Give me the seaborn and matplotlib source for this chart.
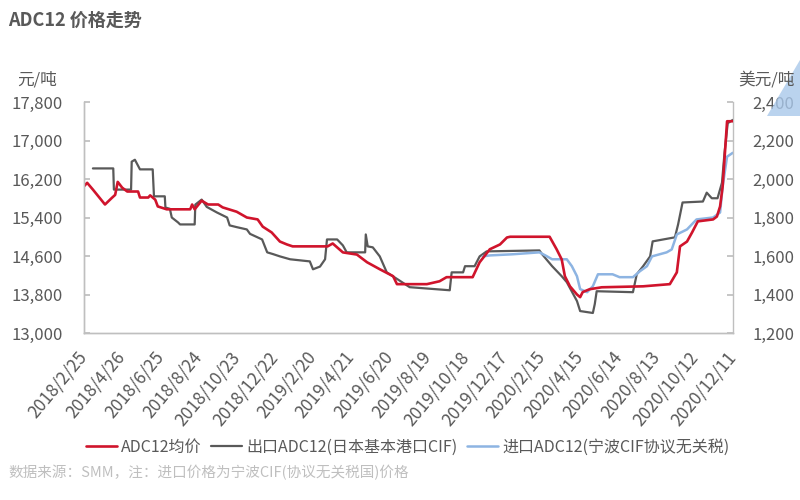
import matplotlib
matplotlib.use('agg')
import matplotlib.pyplot as plt
import matplotlib.transforms as mtransforms
from matplotlib.patches import Polygon
import pandas as pd
import seaborn as sns

# ADC12均价 (元/吨, left axis)
red_dates = ['2018-02-25', '2018-03-02', '2018-03-11', '2018-03-30', '2018-04-10', '2018-04-15',
             '2018-04-19', '2018-04-26', '2018-05-04', '2018-05-21', '2018-05-24', '2018-06-06',
             '2018-06-09', '2018-06-17', '2018-06-21', '2018-07-05', '2018-08-11', '2018-08-14',
             '2018-08-18', '2018-08-29', '2018-09-08', '2018-09-24', '2018-10-01', '2018-10-23',
             '2018-11-08', '2018-11-25', '2018-12-03', '2018-12-17', '2018-12-30', '2019-01-10',
             '2019-01-19', '2019-03-15', '2019-03-23', '2019-04-08', '2019-04-30', '2019-05-16',
             '2019-06-05', '2019-06-26', '2019-07-02', '2019-08-18', '2019-09-07', '2019-09-18',
             '2019-10-29', '2019-11-09', '2019-11-25', '2019-12-11', '2019-12-22', '2019-12-27',
             '2020-02-27', '2020-03-09', '2020-03-17', '2020-03-22', '2020-03-30', '2020-04-10',
             '2020-04-15', '2020-04-19', '2020-04-30', '2020-05-19', '2020-07-23', '2020-09-03',
             '2020-09-14', '2020-09-19', '2020-09-30', '2020-10-08', '2020-10-17', '2020-11-10',
             '2020-11-16', '2020-11-21', '2020-11-25', '2020-12-02', '2020-12-11']
red_prices = [16050, 16120, 15980, 15670, 15810, 15870,
              16140, 16020, 15940, 15940, 15815, 15815,
              15860, 15770, 15630, 15570, 15570, 15670,
              15570, 15750, 15670, 15670, 15610, 15520,
              15400, 15360, 15210, 15090, 14900, 14840,
              14800, 14800, 14860, 14675, 14630, 14470,
              14325, 14180, 14015, 14015, 14075, 14160,
              14160, 14470, 14740, 14840, 14985, 15000,
              15000, 14740, 14530, 14180, 13970, 13800,
              13745, 13850, 13910, 13950, 13970, 14015,
              14260, 14800, 14900, 15090, 15320, 15360,
              15420, 15630, 16040, 17400, 17400]

# 出口ADC12(日本基本港口CIF) (美元/吨, right axis)
export_dates = ['2018-03-11', '2018-04-12', '2018-04-13', '2018-05-10', '2018-05-11', '2018-05-16',
                '2018-05-24', '2018-06-13', '2018-06-15', '2018-07-02', '2018-07-03', '2018-07-10',
                '2018-07-13', '2018-07-23', '2018-07-26', '2018-08-18', '2018-08-19', '2018-08-29',
                '2018-09-06', '2018-09-22', '2018-10-08', '2018-10-12', '2018-10-23', '2018-11-08',
                '2018-11-13', '2018-12-02', '2018-12-10', '2018-12-19', '2018-12-30', '2019-01-15',
                '2019-02-15', '2019-02-20', '2019-03-03', '2019-03-11', '2019-03-14', '2019-03-30',
                '2019-04-08', '2019-04-14', '2019-05-13', '2019-05-14', '2019-05-17', '2019-05-25',
                '2019-06-05', '2019-06-16', '2019-07-03', '2019-07-22', '2019-09-23', '2019-09-26',
                '2019-10-14', '2019-10-17', '2019-11-01', '2019-11-09', '2019-11-20', '2020-02-11',
                '2020-02-15', '2020-03-02', '2020-03-17', '2020-03-25', '2020-04-10', '2020-04-15',
                '2020-05-05', '2020-05-08', '2020-05-11', '2020-07-07', '2020-07-13', '2020-07-23',
                '2020-08-03', '2020-08-07', '2020-09-11', '2020-09-16', '2020-09-23', '2020-10-25',
                '2020-10-31', '2020-11-08', '2020-11-17', '2020-11-24', '2020-11-28', '2020-12-03',
                '2020-12-11']
export_prices = [2055, 2055, 1945, 1945, 2090, 2100,
                 2050, 2050, 1910, 1910, 1852, 1845,
                 1800, 1774, 1764, 1764, 1867, 1893,
                 1855, 1826, 1800, 1759, 1750, 1738,
                 1715, 1686, 1619, 1610, 1598, 1583,
                 1572, 1531, 1545, 1583, 1686, 1686,
                 1655, 1619, 1619, 1712, 1650, 1645,
                 1598, 1515, 1479, 1438, 1422, 1515,
                 1515, 1547, 1547, 1598, 1624, 1629,
                 1610, 1547, 1495, 1464, 1366, 1314,
                 1304, 1350, 1417, 1412, 1505, 1547,
                 1598, 1676, 1697, 1764, 1878, 1883,
                 1929, 1900, 1900, 1981, 2136, 2290,
                 2307]

# 进口ADC12(宁波CIF) (美元/吨, right axis)
import_dates = ['2019-11-14', '2019-11-25', '2019-12-31', '2020-02-11', '2020-02-22', '2020-03-02',
                '2020-03-25', '2020-04-02', '2020-04-10', '2020-04-15', '2020-04-26', '2020-05-05',
                '2020-05-13', '2020-06-05', '2020-06-16', '2020-07-07', '2020-07-18', '2020-07-29',
                '2020-08-06', '2020-08-29', '2020-09-06', '2020-09-14', '2020-09-30', '2020-10-15',
                '2020-11-10', '2020-11-21', '2020-11-25', '2020-12-02', '2020-12-11']
import_prices = [1598, 1603, 1609, 1619, 1600, 1583,
                 1583, 1547, 1495, 1428, 1412, 1443,
                 1505, 1505, 1490, 1490, 1521, 1547,
                 1598, 1619, 1634, 1712, 1738, 1790,
                 1800, 1826, 1960, 2116, 2136]

tick_dates = ['2018-02-25', '2018-04-26', '2018-06-25', '2018-08-24', '2018-10-23', '2018-12-22',
              '2019-02-20', '2019-04-21', '2019-06-20', '2019-08-19', '2019-10-18', '2019-12-17',
              '2020-02-15', '2020-04-15', '2020-06-14', '2020-08-13', '2020-10-12', '2020-12-11']
left_ticks = [13000, 13800, 14600, 15400, 16200, 17000, 17800]
right_ticks = [1200, 1400, 1600, 1800, 2000, 2200, 2400]
series_names = ['ADC12均价', '出口ADC12(日本基本港口CIF)', '进口ADC12(宁波CIF协议无关税)']

RED = '#D0142C'
GREY = '#595959'
BLUE = '#8DB4E2'
TXT = '#595959'
AXIS = '#BFBFBF'

sns.set_theme(style='white')
plt.rcParams['font.family'] = ['Noto Sans CJK SC', 'DejaVu Sans']

red_df = pd.DataFrame({'date': pd.to_datetime(red_dates), 'price': red_prices})
export_df = pd.DataFrame({'date': pd.to_datetime(export_dates), 'price': export_prices})
import_df = pd.DataFrame({'date': pd.to_datetime(import_dates), 'price': import_prices})

fig = plt.figure(figsize=(8, 5), dpi=100)
ax = fig.add_axes([0.105, 0.334, 0.811, 0.462])
ax2 = ax.twinx()

sns.lineplot(data=export_df, x='date', y='price', ax=ax2, color=GREY, lw=1.6, errorbar=None)
sns.lineplot(data=import_df, x='date', y='price', ax=ax2, color=BLUE, lw=1.8, errorbar=None)
sns.lineplot(data=red_df, x='date', y='price', ax=ax, color=RED, lw=1.9, errorbar=None)

# red on top of the secondary-axis lines
ax.set_zorder(ax2.get_zorder() + 1)
ax.patch.set_visible(False)

ax.set_xlim(pd.Timestamp(tick_dates[0]), pd.Timestamp(tick_dates[-1]))
ax.set_ylim(left_ticks[0], left_ticks[-1])
ax2.set_ylim(right_ticks[0], right_ticks[-1])

ticks = pd.to_datetime(tick_dates)
ax.set_xticks(ticks)
ax.set_xticklabels([f'{d.year}/{d.month}/{d.day}' for d in ticks], rotation=50,
                   ha='right', va='center', rotation_mode='anchor')
offset = mtransforms.ScaledTranslation(4 / 72, 0, fig.dpi_scale_trans)
for lab in ax.get_xticklabels():
    lab.set_transform(lab.get_transform() + offset)

ax.set_yticks(left_ticks)
ax.set_yticklabels([f'{v:,}' for v in left_ticks])
ax2.set_yticks(right_ticks)
ax2.set_yticklabels([f'{v:,}' for v in right_ticks])

ax.set_xlabel('')
ax.set_ylabel('')
ax2.set_ylabel('')

ax.tick_params(axis='x', direction='in', length=4, color=AXIS, labelsize=12.5, labelcolor=TXT, pad=15)
ax.tick_params(axis='y', direction='in', length=4, color=AXIS, labelsize=12, labelcolor=TXT, pad=15)
ax2.tick_params(axis='y', direction='in', length=4, color=AXIS, labelsize=12, labelcolor=TXT, pad=14)

for a in (ax, ax2):
    a.spines['top'].set_visible(False)
    for s in ('left', 'bottom', 'right'):
        a.spines[s].set_color(AXIS)
        a.spines[s].set_linewidth(1)
    a.grid(False)
ax.spines['right'].set_visible(False)

fig.text(8 / 800, 1 - 20 / 500, 'ADC12 价格走势', fontsize=13, fontweight='bold', color=TXT,
         ha='left', va='center')
fig.text(37 / 800, 1 - 80 / 500, '元/吨', fontsize=12, color=TXT, ha='center', va='center')
fig.text(766 / 800, 1 - 80 / 500, '美元/吨', fontsize=12, color=TXT, ha='center', va='center')

handles = [ax.lines[0], ax2.lines[0], ax2.lines[1]]
fig.legend(handles=handles, labels=series_names, loc='center', bbox_to_anchor=(0.51, 1 - 447 / 500),
           ncol=3, frameon=False, fontsize=11.5, handlelength=1.9, handletextpad=0.3,
           columnspacing=0.6, labelcolor=TXT)

fig.text(8 / 800, 1 - 473 / 500, '数据来源：SMM，注：进口价格为宁波CIF(协议无关税国)价格',
         fontsize=10.5, color='#BFBFBF', style='italic', ha='left', va='center')

# light blue corner decoration
fig.patches.append(Polygon([(767 / 800, 1 - 116 / 500), (800 / 800, 1 - 60 / 500), (1, 1 - 116 / 500)],
                           closed=True, transform=fig.transFigure, facecolor='#A9C8EA',
                           edgecolor='none', alpha=0.8, zorder=0))

fig.savefig('out.png', dpi=100)
